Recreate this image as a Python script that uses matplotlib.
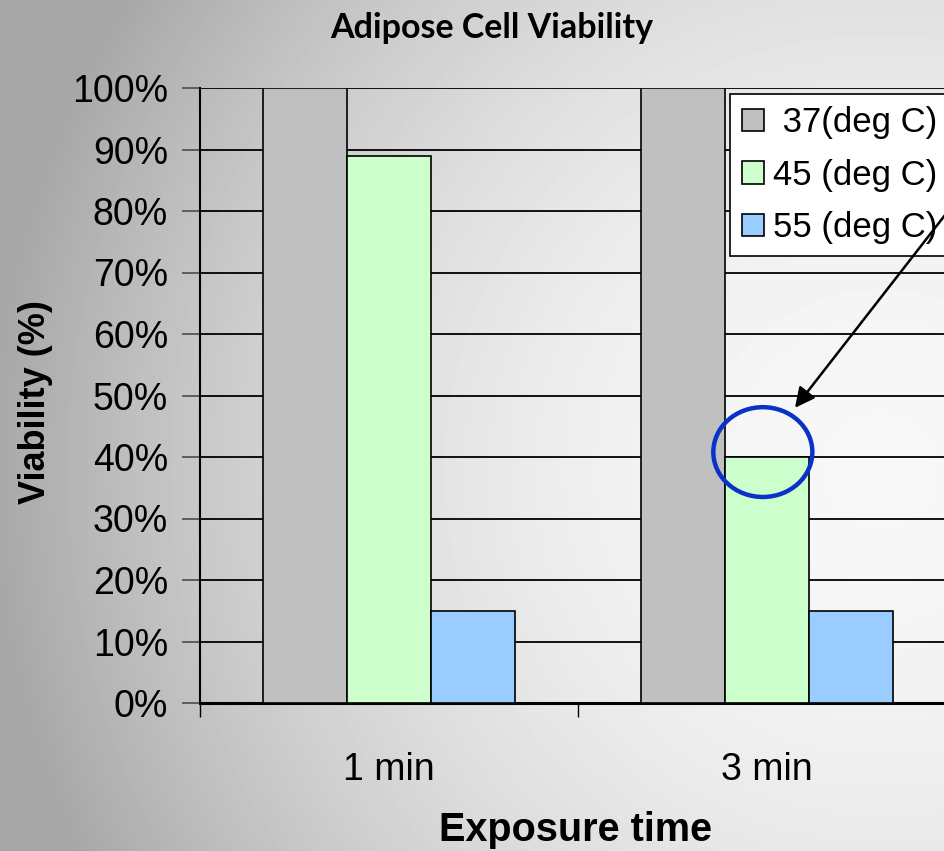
import numpy as np
import matplotlib.pyplot as plt
from matplotlib.patches import Ellipse

plt.rcParams['font.family'] = ['Liberation Sans', 'DejaVu Sans']

# data
categories = ['1 min', '3 min']
series_names = [' 37(deg C)', '45 (deg C)', '55 (deg C)']
viability = {
    ' 37(deg C)': [100, 100],
    '45 (deg C)': [89, 40],
    '55 (deg C)': [15, 15],
}
bar_colors = ['#c0c0c0', '#ccffcc', '#99ccff']
y_ticks = list(range(0, 101, 10))

fig = plt.figure(figsize=(9.44, 8.51), dpi=100)

# background: radial grey -> white gradient, lightest right of centre
bg = fig.add_axes([0, 0, 1, 1], zorder=0)
W, H = 944, 851
xx, yy = np.meshgrid(np.arange(W), np.arange(H))
d = np.sqrt((xx - 880) ** 2 + (yy - 470) ** 2) / 883
shade = np.clip(0.97 - 0.31 * d ** 2, 0.655, 0.97)
bg.imshow(shade, cmap='gray', vmin=0, vmax=1, extent=[0, W, H, 0], aspect='auto')
bg.axis('off')

ax = fig.add_axes([200 / W, 148 / H, 756 / W, 615 / H], zorder=1)
ax.set_facecolor('none')

x = np.arange(len(categories))
w = 0.2222
for i, name in enumerate(series_names):
    ax.bar(x + (i - 1) * w, viability[name], width=w, color=bar_colors[i],
           edgecolor='black', linewidth=1.2, label=name, zorder=3)

ax.set_xlim(-0.5, 1.5)
ax.set_ylim(0, 100)
ax.set_yticks(y_ticks)
ax.set_yticklabels([f'{t}%' for t in y_ticks], fontsize=27)
ax.grid(axis='y', color='black', linewidth=1.3, zorder=1)
ax.tick_params(axis='y', length=13, width=1.3, color='#555555', pad=10)

# ticks at category boundaries, labels at centres
ax.set_xticks([-0.5, 0.5, 1.5])
ax.set_xticklabels([])
ax.tick_params(axis='x', which='major', length=10, width=1)
ax.set_xticks(x, minor=True)
ax.set_xticklabels(categories, minor=True, fontsize=27)
ax.tick_params(axis='x', which='minor', length=0, pad=35)

for s in ['top', 'right']:
    ax.spines[s].set_visible(False)
ax.spines['left'].set_linewidth(1.5)
ax.spines['bottom'].set_linewidth(2.2)

ax.set_ylabel('Viability (%)', fontsize=26, fontweight='bold')
ax.yaxis.set_label_coords(-0.194, 0.49)
ax.set_xlabel('Exposure time', fontsize=28.5, fontweight='bold')
ax.xaxis.set_label_coords(0.497, -0.176)

fig.text(492 / W, 1 - 28 / H, 'Adipose Cell Viability', fontsize=24.5,
         fontweight='bold', family=['Lato', 'DejaVu Sans'],
         ha='center', va='center')

leg = ax.legend(loc='upper left', bbox_to_anchor=(0.701, 0.99), borderaxespad=0,
                fontsize=25, frameon=True, fancybox=False, framealpha=1,
                edgecolor='black', handlelength=0.63, handleheight=0.63,
                handletextpad=0.26, labelspacing=0.56, borderpad=0.35)
leg.get_frame().set_linewidth(1.2)
leg.set_zorder(5)

# highlight of the 45 C bar at 3 min
ax.add_patch(Ellipse((0.989, 40.8), 0.262, 14.6, fill=False, edgecolor='#0a32c8',
                     linewidth=3.2, zorder=6))
ax.annotate('', xy=(1.074, 48.0), xytext=(1.53, 84.0),
            arrowprops=dict(arrowstyle='-|>', color='black', lw=1.8,
                            mutation_scale=30, shrinkA=0, shrinkB=0),
            annotation_clip=False, zorder=7)

fig.savefig('out.png', dpi=100)
